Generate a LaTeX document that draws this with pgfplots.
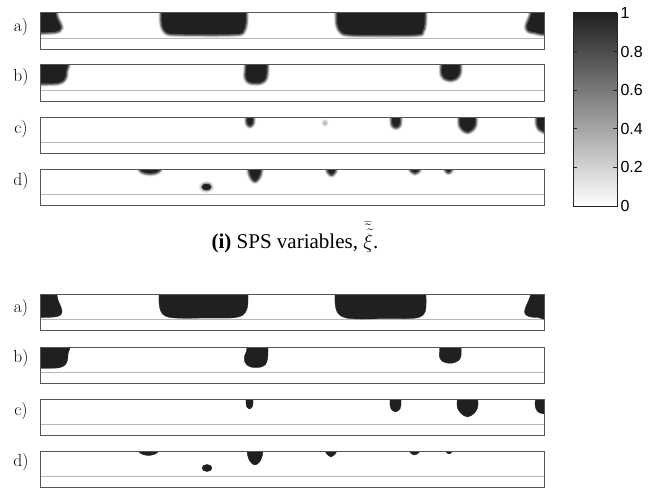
\documentclass[border=0pt]{standalone}
\usepackage{fontspec}
\setsansfont{Liberation Sans}
\newfontfamily\timesfont{Liberation Serif}
\usepackage{pgfplots}
\pgfplotsset{compat=1.18}
\definecolor{blobc}{RGB}{32,32,32}
\definecolor{framec}{RGB}{85,85,85}
\pgfplotsset{
 panel/.style={width=504pt,height=36pt,scale only axis,xmin=0,xmax=504,ymin=0,ymax=36,y dir=reverse,
   xtick=\empty,ytick=\empty,axis line style={draw=framec,line width=1pt},anchor=north west,axis on top},
 sharp/.style={smooth,tension=0.55,fill=blobc,draw=blobc,line width=0.3pt,line join=round,mark=none},
 blurA/.style={smooth,tension=0.55,fill=blobc!14,draw=blobc!14,line width=5pt,line join=round,mark=none},
 blurB/.style={smooth,tension=0.55,fill=blobc!42,draw=blobc!42,line width=3pt,line join=round,mark=none},
 blurC/.style={smooth,tension=0.55,fill=blobc,draw=blobc!72,line width=1.2pt,line join=round,mark=none},
 guide/.style={draw=black!28,line width=0.7pt,dash pattern=on 0.5pt off 0.5pt,mark=none},
 dot/.style={only marks,mark=*},
}
\newcommand\soft[1]{\addplot[blurA] coordinates {#1};\addplot[blurB] coordinates {#1};\addplot[blurC] coordinates {#1};}
\begin{document}
\begin{tikzpicture}[x=1pt,y=1pt]
\path[use as bounding box] (0,0) rectangle (661,491);
% ---------- top group (blurred) ----------
\begin{axis}[panel,at={(40pt,478pt)}]
\addplot[guide] coordinates {(0,25)(504,25)};
\soft{(-3,-3)(16.5,-3)(16.5,0)(17.5,5)(20.5,11)(21.5,15)(19.5,18)(14,19.5)(4,20)(-3,20)}
\soft{(121,-3)(121,8)(122,14)(125,19)(132,21.5)(165,22)(198,21.5)(204,18)(206,12)(206.5,6)(206.5,-3)}
\soft{(296.5,-3)(296.5,8)(297.5,14)(300.5,19)(308,22)(340,22.5)(378,22)(383,18.5)(385,12)(385.5,-3)}
\soft{(491,-3)(490,3)(487.5,9)(486,14)(488,18)(493,19.5)(507,20)(507,-3)}
\end{axis}
\begin{axis}[panel,at={(40pt,426pt)}]
\addplot[guide] coordinates {(0,25)(504,25)};
\soft{(-3,-3)(26.5,-3)(26.5,7)(26,12)(23.5,16)(18,18.5)(8,19)(-3,19)}
\soft{(206,-3)(205.5,5)(205,11)(207,16)(211.5,18.3)(220,18.3)(225,15.5)(227,10)(227.5,-3)}
\soft{(401.5,-3)(401,5)(401.5,10)(404,13.5)(410,15.5)(416,14)(419.5,10)(420.5,5)(420.5,-3)}
\end{axis}
\begin{axis}[panel,at={(40pt,374pt)}]
\addplot[guide] coordinates {(0,25)(504,25)};
\soft{(206.5,-3)(206.5,4)(207,7)(210,9.5)(213,7)(213.5,4)(213.5,-3)}
\addplot[dot,color=blobc!10,mark size=3.4pt] coordinates {(285,6)};
\addplot[dot,color=blobc!22,mark size=2.4pt] coordinates {(285,6)};
\addplot[dot,color=blobc!32,mark size=1.4pt] coordinates {(285,6)};
\soft{(351.5,-3)(351.5,5)(352.5,9)(356,11)(359.5,9)(360.5,5)(360.5,-3)}
\soft{(419.5,-3)(419,3)(419.5,8.5)(422.5,13)(427.5,15.5)(432.5,13)(435.5,8.5)(436,3)(435.5,-3)}
\soft{(497,-3)(496.5,5)(497.5,10)(500.5,13.5)(507,14.5)(507,-3)}
\end{axis}
\begin{axis}[panel,at={(40pt,322pt)}]
\addplot[guide] coordinates {(0,25)(504,25)};
\soft{(99,-3)(100,1.5)(104,4)(110,5)(116,4)(120,1.5)(121,-3)}
\addplot[dot,color=blobc!14,mark size=5.5pt,mark options={xscale=1.3}] coordinates {(166.5,18)};
\addplot[dot,color=blobc!42,mark size=4.2pt,mark options={xscale=1.38}] coordinates {(166.5,18)};
\addplot[dot,color=blobc,mark size=3pt,mark options={xscale=1.5}] coordinates {(166.5,18)};
\soft{(208.5,-3)(209,4)(211,9)(213.5,12)(215,12.5)(216.5,12)(219,9)(221,4)(221.5,-3)}
\soft{(286.5,-3)(287.5,2.5)(291.5,6.5)(295.5,2.5)(296.5,-3)}
\soft{(369.5,-3)(370.5,1.5)(375,4.5)(379.5,1.5)(380.5,-3)}
\soft{(404.5,-3)(405.5,1.5)(408.5,4)(411.5,1.5)(412.5,-3)}
\end{axis}
% ---------- colorbar ----------
\begin{axis}[at={(573pt,478pt)},anchor=north west,width=44pt,height=193pt,scale only axis,
  xmin=0,xmax=1,ymin=0,ymax=1,xtick=\empty,ytick={0,0.2,0.4,0.6,0.8,1},
  yticklabel pos=right,ytick pos=both,tick align=inside,major tick length=4pt,
  axis line style={draw=black!85,line width=0.8pt},every tick/.style={black!85,line width=0.6pt},
  yticklabel style={font=\fontsize{16}{18}\sffamily\selectfont},
  /pgf/number format/assume math mode=true,axis on top]
\addplot[draw=none,top color=blobc,bottom color=white] coordinates {(0,0)(1,0)(1,1)(0,1)};
\end{axis}
% ---------- bottom group (sharp) ----------
\begin{axis}[panel,at={(40pt,197pt)}]
\addplot[guide] coordinates {(0,25)(504,25)};
\addplot[sharp] coordinates {(-3,-3)(17,-3)(17,0)(18,6)(21,13)(22,18)(20,21.5)(14,23)(4,23.5)(-3,23.5)};
\addplot[sharp] coordinates {(119,-3)(119,8)(120,15)(123,20.5)(130,23.5)(145,24.3)(165,24)(190,24)(200,22.5)(205,19)(207.5,13)(208,6)(208,-3)};
\addplot[sharp] coordinates {(295,-3)(295,8)(296,15)(299,20.5)(306,24)(320,25)(340,24.7)(370,24.5)(380,23)(384.5,19)(386,13)(386,-3)};
\addplot[sharp] coordinates {(491,-3)(490,3)(487,10)(484.5,17)(486,21)(491,23)(498,23.5)(507,23.5)(507,-3)};
\end{axis}
\begin{axis}[panel,at={(40pt,144pt)}]
\addplot[guide] coordinates {(0,25)(504,25)};
\addplot[sharp] coordinates {(-3,-3)(28,-3)(28,7)(27.5,13)(25,18)(19,20.8)(8,21.3)(-3,21.3)};
\addplot[sharp] coordinates {(207,-3)(206.5,4)(204.5,9)(204.5,14)(207,18)(212,20.3)(220,20.3)(225.5,17.5)(227.5,12)(228,6)(228,-3)};
\addplot[sharp] coordinates {(400,-3)(399.5,5)(399.5,10)(402,14)(407,16)(413,16)(418.5,13.5)(421,9)(421,-3)};
\end{axis}
\begin{axis}[panel,at={(40pt,92pt)}]
\addplot[guide] coordinates {(0,25)(504,25)};
\addplot[sharp] coordinates {(206,-3)(206,4)(206.5,7.5)(209.5,10)(212.5,7.5)(213,4)(213,-3)};
\addplot[sharp] coordinates {(350,-3)(350,6)(351,10)(355.5,13)(360,10)(361,6)(361,-3)};
\addplot[sharp] coordinates {(418,-3)(417,3)(417.5,9)(421,14.5)(427.5,18)(434,14.5)(437.5,9)(438,3)(437,-3)};
\addplot[sharp] coordinates {(496,-3)(495,5)(496,10)(499,13.5)(504,15)(507,15)(507,-3)};
\end{axis}
\begin{axis}[panel,at={(40pt,40pt)}]
\addplot[guide] coordinates {(0,25)(504,25)};
\addplot[sharp] coordinates {(98,-3)(99,1)(103,3.5)(108.5,4.5)(114,3.5)(118,1)(119,-3)};
\addplot[dot,color=blobc,mark size=3.5pt,mark options={xscale=1.43}] coordinates {(167,17)};
\addplot[sharp] coordinates {(207,-3)(207.5,4)(209.5,9.5)(212.5,13)(215,14)(217.5,13)(220.5,9.5)(222.5,4)(223,-3)};
\addplot[sharp] coordinates {(285,-3)(286,2)(291,6)(296,2)(297,-3)};
\addplot[sharp] coordinates {(369,-3)(370,1.5)(374.5,4)(379,1.5)(380,-3)};
\addplot[sharp] coordinates {(405,-3)(406,1)(409,3)(412,1)(413,-3)};
\end{axis}
% ---------- labels ----------
\begin{scope}[every node/.style={font=\fontsize{17.5}{20}\selectfont}]
\node at (21,464) {a)};
\node at (21,414) {b)};
\node at (21,362) {c)};
\node at (21,310) {d)};
\node at (21,183) {a)};
\node at (21,133) {b)};
\node at (21,80) {c)};
\node at (21,29) {d)};
\end{scope}
\node[anchor=base,font=\timesfont\fontsize{21}{24}\selectfont] at (295,243) {\textbf{(i)} SPS variables, $\bar{\tilde{\tilde{\xi}}}$.};
\end{tikzpicture}
\end{document}
